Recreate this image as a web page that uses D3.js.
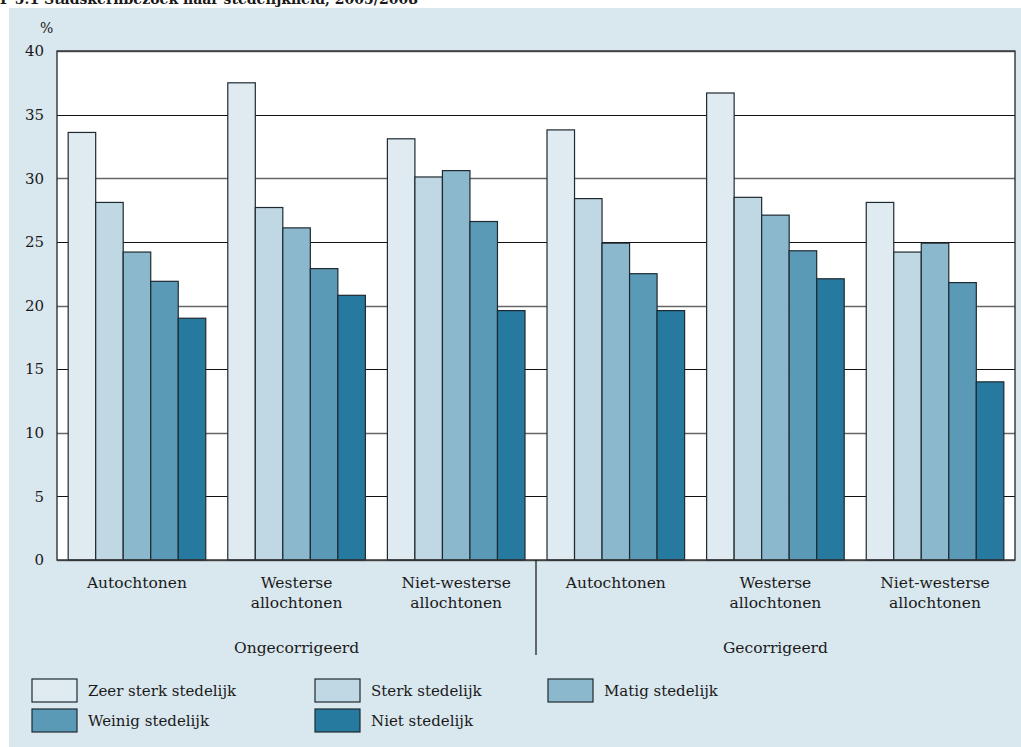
<!DOCTYPE html>
<html>
<head>
<meta charset="utf-8">
<script src="https://cdn.jsdelivr.net/npm/d3@7"></script>
<style>
  body { margin: 0; background: #ffffff; }
  svg text { font-family: "DejaVu Serif", serif; fill: #1a1a1a; }
</style>
</head>
<body>
<div id="chart"></div>
<script>
// data
var groups = ["Ongecorrigeerd", "Gecorrigeerd"];
var categories = [["Autochtonen"], ["Westerse", "allochtonen"], ["Niet-westerse", "allochtonen"]];
var seriesNames = ["Zeer sterk stedelijk", "Sterk stedelijk", "Matig stedelijk", "Weinig stedelijk", "Niet stedelijk"];
var seriesColors = ["#e0ebf1", "#c0d8e3", "#8cb8cd", "#5a9ab6", "#26799f"];
// one row per cluster, order: Ongecorrigeerd (3 cats) then Gecorrigeerd (3 cats)
var values = [
  [33.6, 28.1, 24.2, 21.9, 19.0],
  [37.5, 27.7, 26.1, 22.9, 20.8],
  [33.1, 30.1, 30.6, 26.6, 19.6],
  [33.8, 28.4, 24.9, 22.5, 19.6],
  [36.7, 28.5, 27.1, 24.3, 22.1],
  [28.1, 24.2, 24.9, 21.8, 14.0]
];
var yTicks = [0, 5, 10, 15, 20, 25, 30, 35, 40];

var W = 1021, H = 747;
var margin = {top: 51, right: 6, bottom: 187, left: 57},
    width = W - margin.left - margin.right,
    height = H - margin.top - margin.bottom;

var svg = d3.select("#chart").append("svg")
  .attr("width", W)
  .attr("height", H);

// cut-off title strip at the very top
svg.append("text")
  .attr("x", 0)
  .attr("y", 4)
  .style("font-weight", "bold")
  .style("font-size", "14px")
  .text("F 5.1 Stadskernbezoek naar stedelijkheid, 2005/2008");

// blue panel
svg.append("rect")
  .attr("x", 9).attr("y", 8)
  .attr("width", W - 9).attr("height", H - 8)
  .attr("fill", "#d9e7ee");

var g = svg.append("g")
  .attr("transform", "translate(" + margin.left + "," + margin.top + ")");

var clusters = d3.range(values.length);

var x0 = d3.scaleBand()
  .domain(clusters)
  .range([0, width])
  .paddingInner(0.138)
  .paddingOuter(0.07);

var x1 = d3.scaleBand()
  .domain(d3.range(seriesNames.length))
  .range([0, x0.bandwidth()]);

var y = d3.scaleLinear()
  .domain([0, 40])
  .range([height, 0]);

// plot background
g.append("rect")
  .attr("width", width)
  .attr("height", height)
  .attr("fill", "#ffffff");

// gridlines
g.append("g")
  .selectAll("line")
  .data(yTicks)
  .join("line")
    .attr("x1", 0)
    .attr("x2", width)
    .attr("y1", function(d){ return Math.round(y(d)) + 0.5; })
    .attr("y2", function(d){ return Math.round(y(d)) + 0.5; })
    .attr("stroke", function(d){ return d % 10 == 0 ? "#666" : "#111"; })
    .attr("stroke-width", function(d){ return d % 10 == 0 ? 1.6 : 1; });

// y axis labels
var yAxis = g.append("g")
  .call(d3.axisLeft(y).tickValues(yTicks).tickSize(0).tickPadding(13));
yAxis.select(".domain").remove();
yAxis.selectAll("text")
  .style("font-family", "DejaVu Serif")
  .style("font-size", "15px")
  .attr("fill", "#1a1a1a");

g.append("text")
  .attr("x", -17)
  .attr("y", -18)
  .style("font-size", "14px")
  .text("%");

// bars
var cluster = g.selectAll(".cluster")
  .data(values)
  .join("g")
    .attr("class", "cluster")
    .attr("transform", function(d, i){ return "translate(" + x0(i) + ",0)"; });

cluster.selectAll("rect")
  .data(function(d){ return d; })
  .join("rect")
    .attr("x", function(d, i){ return x1(i); })
    .attr("y", function(d){ return y(d); })
    .attr("width", x1.bandwidth())
    .attr("height", function(d){ return height - y(d); })
    .attr("fill", function(d, i){ return seriesColors[i]; })
    .attr("stroke", "#1e2a30")
    .attr("stroke-width", 1.2);

// frame
g.append("rect")
  .attr("width", width)
  .attr("height", height)
  .attr("fill", "none")
  .attr("stroke", "#333")
  .attr("stroke-width", 1.4);

// category labels
clusters.forEach(function(i){
  var lines = categories[i % categories.length];
  var t = g.append("text")
    .attr("text-anchor", "middle")
    .style("font-size", "15.5px")
    .attr("x", x0(i) + x0.bandwidth() / 2)
    .attr("y", height + 28);
  lines.forEach(function(s, k){
    t.append("tspan")
      .attr("x", x0(i) + x0.bandwidth() / 2)
      .attr("dy", k == 0 ? 0 : 20)
      .text(s);
  });
});

// group labels and divider
groups.forEach(function(name, j){
  var first = x0(j * 3), last = x0(j * 3 + 2) + x0.bandwidth();
  g.append("text")
    .attr("text-anchor", "middle")
    .style("font-size", "15.5px")
    .attr("x", (first + last) / 2)
    .attr("y", height + 93)
    .text(name);
});
var divX = (x0(2) + x0.bandwidth() + x0(3)) / 2;
g.append("line")
  .attr("x1", divX).attr("x2", divX)
  .attr("y1", height).attr("y2", height + 95)
  .attr("stroke", "#111")
  .attr("stroke-width", 1.2);

// legend
var legendCols = [32, 315, 548];
var legendRows = [679, 709];
var legend = svg.append("g")
  .selectAll("g")
  .data(seriesNames)
  .join("g")
    .attr("transform", function(d, i){
      return "translate(" + legendCols[i % 3] + "," + legendRows[Math.floor(i / 3)] + ")";
    });
legend.append("rect")
  .attr("width", 45)
  .attr("height", 23)
  .attr("fill", function(d, i){ return seriesColors[i]; })
  .attr("stroke", "#1e2a30")
  .attr("stroke-width", 1.2);
legend.append("text")
  .attr("x", 56)
  .attr("y", 17)
  .style("font-size", "15px")
  .text(function(d){ return d; });
</script>
</body>
</html>
